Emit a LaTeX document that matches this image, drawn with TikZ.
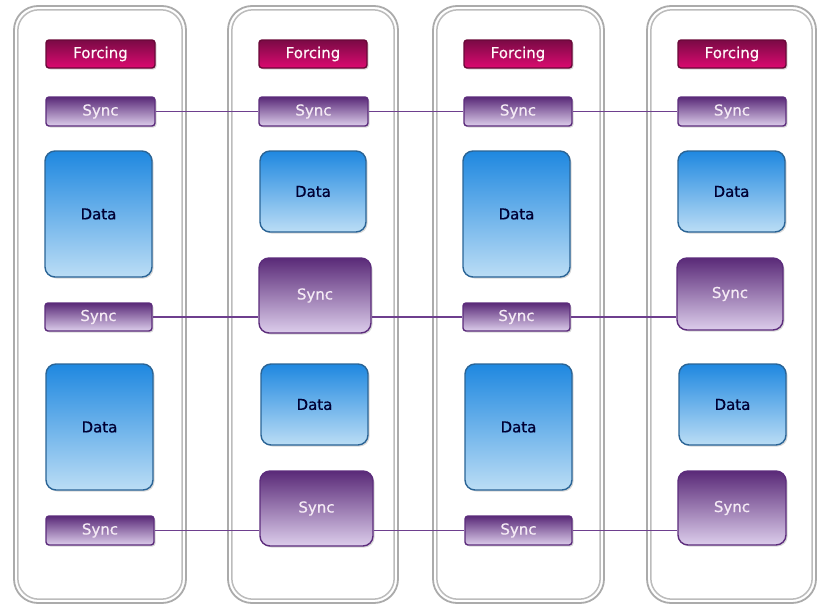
\documentclass[tikz,border=0pt]{standalone}
\usepackage{fontspec}
\setmainfont{DejaVu Sans}
\newfontfamily\boxfont[FakeBold=0.6]{DejaVu Sans}
\usetikzlibrary{shadows}
\definecolor{forctop}{HTML}{7A0A45}
\definecolor{forcbot}{HTML}{DC0A70}
\definecolor{forcdraw}{HTML}{6A0838}
\definecolor{synctop}{HTML}{5A2A78}
\definecolor{syncbot}{HTML}{DCCDEB}
\definecolor{syncdraw}{HTML}{5C2C7C}
\definecolor{datatop}{HTML}{1F88E0}
\definecolor{databot}{HTML}{BBDDF5}
\definecolor{datadraw}{HTML}{2A6496}
\definecolor{colgray}{HTML}{ABABAB}
\definecolor{linkcol}{HTML}{6E3F8E}
\tikzset{
  x=1pt, y=-1pt,
  boxbase/.style={inner sep=0pt, line width=1.4pt, font=\boxfont\fontsize{15}{17}\selectfont,
    drop shadow={shadow xshift=1.5pt, shadow yshift=-1.5pt, opacity=0.3}},
  forcbox/.style={boxbase, rounded corners=3pt, draw=forcdraw, top color=forctop, bottom color=forcbot, text=white!90!pink},
  syncbox/.style={boxbase, rounded corners=3pt, draw=syncdraw, top color=synctop, bottom color=syncbot, text=white!92!violet},
  bigsync/.style={boxbase, rounded corners=10pt, draw=syncdraw, top color=synctop, bottom color=syncbot, text=white!92!violet},
  databox/.style={boxbase, rounded corners=10pt, draw=datadraw, top color=datatop, bottom color=databot, text=black!80!blue},
  link/.style={draw=linkcol, line width=1.3pt},
}
\newcommand{\colframe}[4]{%
  \draw[colgray, line width=1.8pt, fill=white, rounded corners=24pt] (#1,#3) rectangle (#2,#4);
  \draw[colgray!80, line width=1.5pt, rounded corners=21pt] (#1+3.8,#3+3.8) rectangle (#2-3.8,#4-3.8);
}
\begin{document}
\begin{tikzpicture}
\useasboundingbox (0,0) rectangle (817,605);
\fill[white] (0,0) rectangle (817,605);
% columns
\colframe{14}{186}{6}{603}
\colframe{228}{398}{6}{603}
\colframe{433}{604}{6}{603}
\colframe{647}{816}{6}{603}
% column 1
\node[forcbox, minimum width=109pt, minimum height=28pt] (f1) at (100.5,54) {Forcing};
\node[syncbox, minimum width=109pt, minimum height=29pt] (sa1) at (100.5,111.5) {Sync};
\node[databox, minimum width=107pt, minimum height=126pt] (da1) at (98.5,214) {Data};
\node[syncbox, minimum width=107pt, minimum height=28pt] (sb1) at (98.5,317) {Sync};
\node[databox, minimum width=107pt, minimum height=126pt] (db1) at (99.5,427) {Data};
\node[syncbox, minimum width=108pt, minimum height=29pt] (sc1) at (100,530.5) {Sync};
% column 2
\node[forcbox, minimum width=108pt, minimum height=28pt] (f2) at (313,54) {Forcing};
\node[syncbox, minimum width=109pt, minimum height=29pt] (sa2) at (313.5,111.5) {Sync};
\node[databox, minimum width=106pt, minimum height=81pt] (da2) at (313,191.5) {Data};
\node[bigsync, minimum width=112pt, minimum height=75pt] (sb2) at (315,295.5) {Sync};
\node[databox, minimum width=107pt, minimum height=81pt] (db2) at (314.5,404.5) {Data};
\node[bigsync, minimum width=113pt, minimum height=75pt] (sc2) at (316.5,508.5) {Sync};
% column 3
\node[forcbox, minimum width=108pt, minimum height=28pt] (f3) at (518,54) {Forcing};
\node[syncbox, minimum width=108pt, minimum height=29pt] (sa3) at (518,111.5) {Sync};
\node[databox, minimum width=107pt, minimum height=126pt] (da3) at (516.5,214) {Data};
\node[syncbox, minimum width=107pt, minimum height=28pt] (sb3) at (516.5,317) {Sync};
\node[databox, minimum width=107pt, minimum height=126pt] (db3) at (518.5,427) {Data};
\node[syncbox, minimum width=107pt, minimum height=29pt] (sc3) at (518.5,530.5) {Sync};
% column 4
\node[forcbox, minimum width=108pt, minimum height=28pt] (f4) at (732,54) {Forcing};
\node[syncbox, minimum width=108pt, minimum height=29pt] (sa4) at (732,111.5) {Sync};
\node[databox, minimum width=107pt, minimum height=81pt] (da4) at (731.5,191.5) {Data};
\node[bigsync, minimum width=106pt, minimum height=72pt] (sb4) at (730,294) {Sync};
\node[databox, minimum width=107pt, minimum height=81pt] (db4) at (732.5,404.5) {Data};
\node[bigsync, minimum width=108pt, minimum height=74pt] (sc4) at (732,508) {Sync};
% connectors
\draw[link] (sa1.east) -- (sa2.west);
\draw[link] (sa2.east) -- (sa3.west);
\draw[link] (sa3.east) -- (sa4.west);
\draw[link] (sb1.east) -- (sb1.east -| sb2.west);
\draw[link] (sb1.east -| sb2.east) -- (sb3.west);
\draw[link] (sb3.east) -- (sb3.east -| sb4.west);
\draw[link] (sc1.east) -- (sc1.east -| sc2.west);
\draw[link] (sc1.east -| sc2.east) -- (sc3.west);
\draw[link] (sc3.east) -- (sc3.east -| sc4.west);
\end{tikzpicture}
\end{document}
